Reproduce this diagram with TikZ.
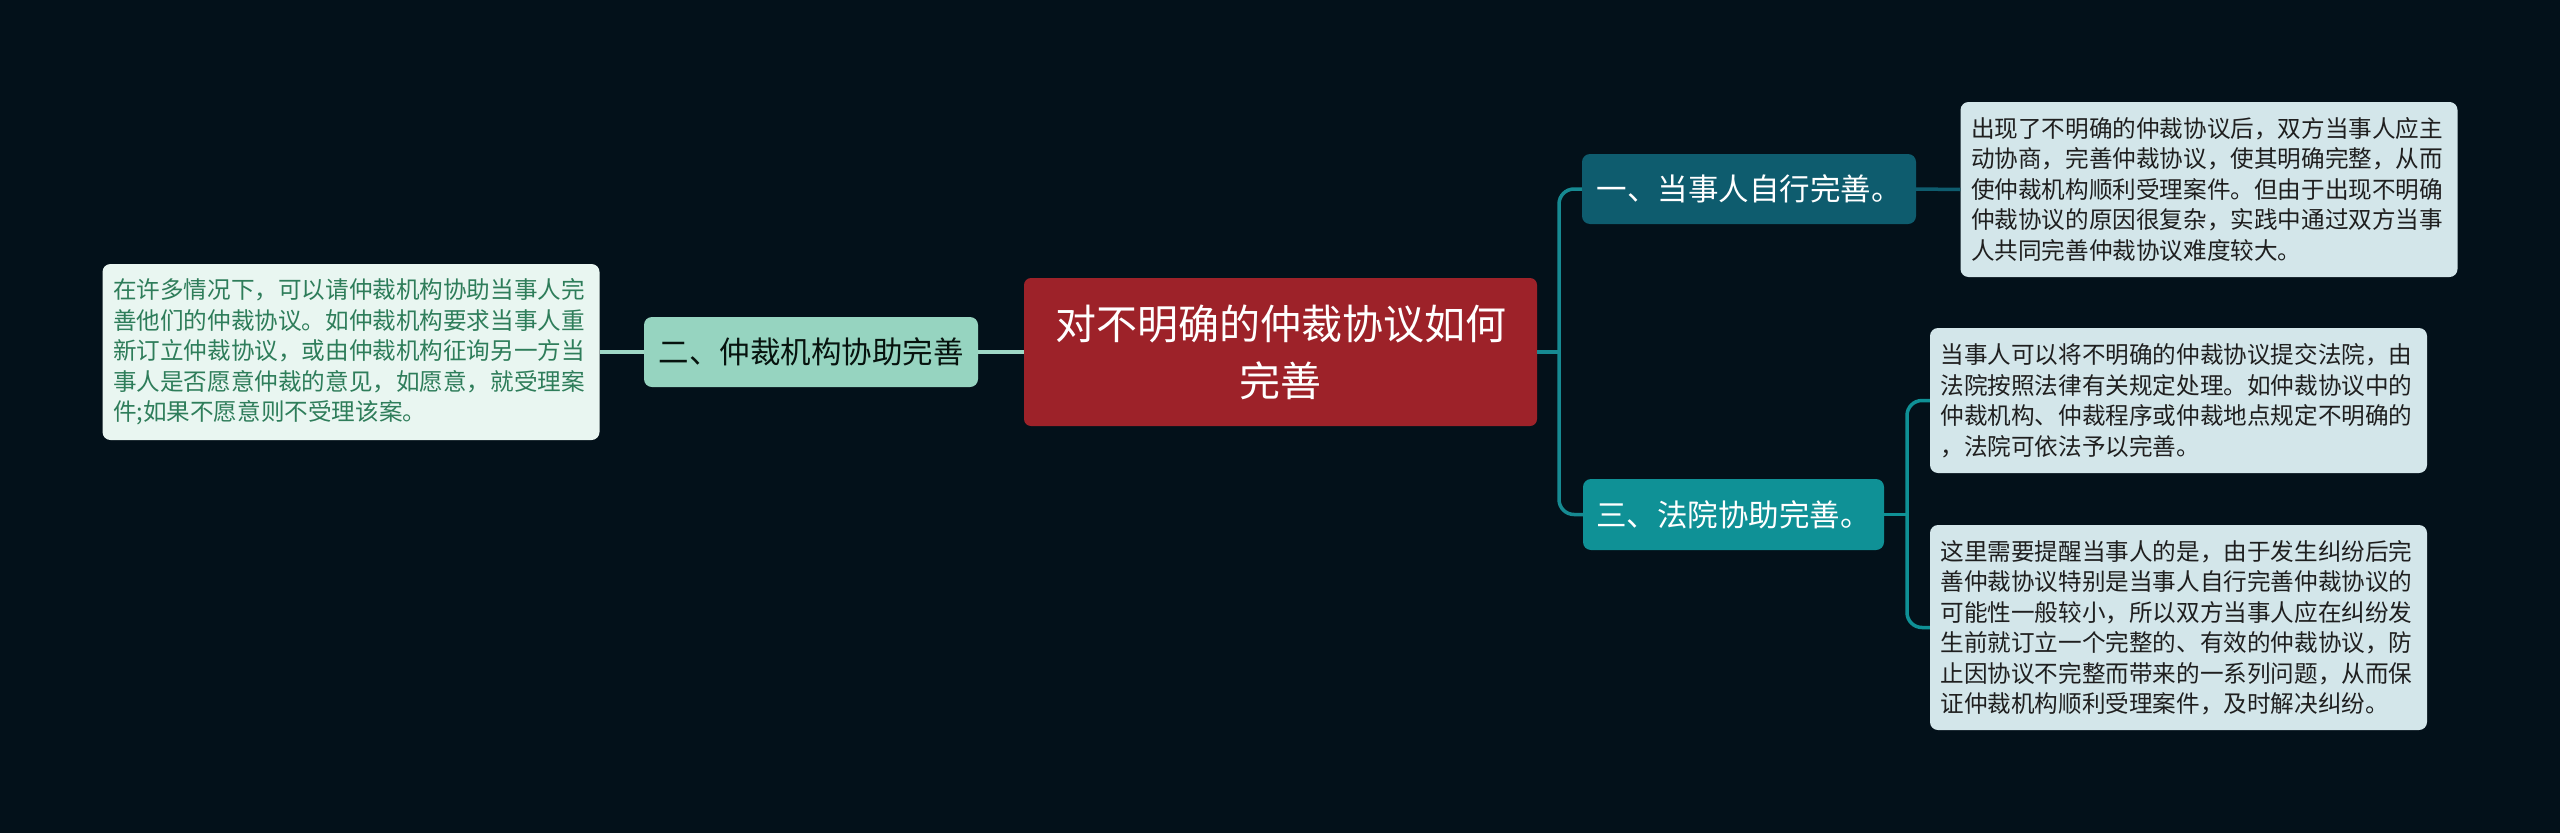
\documentclass[tikz,border=0pt]{standalone}
\usepackage{fontspec}
\setmainfont{Noto Sans CJK SC}
\definecolor{bg}{HTML}{03111A}
\definecolor{cred}{HTML}{9D2229}
\definecolor{mint}{HTML}{96D4C0}
\definecolor{mintline}{HTML}{9FD8C6}
\definecolor{mintbox}{HTML}{E9F6F1}
\definecolor{mintText}{HTML}{2E7D5A}
\definecolor{darkteal}{HTML}{0E5C6E}
\definecolor{teal}{HTML}{0F9196}
\definecolor{trunk}{HTML}{168A92}
\definecolor{bluebox}{HTML}{D3E6EA}
\begin{document}
\begin{tikzpicture}[x=1pt,y=-1pt,
  central/.style={fill=cred, text=white, rounded corners=7pt, font=\fontsize{41}{57}\selectfont, align=center, minimum width=513pt, minimum height=148pt, inner sep=0pt},
  topic/.style={rounded corners=8pt, font=\fontsize{30.5}{36}\selectfont, minimum height=70pt, inner sep=0pt},
  note/.style={rounded corners=8pt, font=\fontsize{23.6}{30.5}\selectfont, align=left, text width=476pt, inner xsep=10.5pt, inner ysep=0pt},
  conn/.style={line width=3.5pt, rounded corners=15pt}
]
\useasboundingbox[fill=bg] (0,0) rectangle (2560,833);

% nodes
\node[central] (c) at (1280.5,352) {对不明确的仲裁协议如何\\完善};
\node[topic, fill=mint, text=black!85!mintText, minimum width=334pt] (two) at (811,352) {二、仲裁机构协助完善};
\node[note, fill=mintbox, text=mintText, minimum height=176pt] (lnote) at (351,352) {在许多情况下，可以请仲裁机构协助当事人完\\善他们的仲裁协议。如仲裁机构要求当事人重\\新订立仲裁协议，或由仲裁机构征询另一方当\\事人是否愿意仲裁的意见，如愿意，就受理案\\件;如果不愿意则不受理该案。};

\node[topic, fill=darkteal, text=white, minimum width=334pt] (one) at (1749,189) {一、当事人自行完善。};
\node[topic, fill=teal, text=white, minimum width=301pt, minimum height=71pt] (three) at (1733.5,514.5) {三、法院协助完善。};

\node[note, fill=bluebox, text=black!88, minimum height=175pt] (n1) at (2209,189.5) {出现了不明确的仲裁协议后，双方当事人应主\\动协商，完善仲裁协议，使其明确完整，从而\\使仲裁机构顺利受理案件。但由于出现不明确\\仲裁协议的原因很复杂，实践中通过双方当事\\人共同完善仲裁协议难度较大。};
\node[note, fill=bluebox, text=black!88, minimum height=145pt] (n2) at (2178.5,400.5) {当事人可以将不明确的仲裁协议提交法院，由\\法院按照法律有关规定处理。如仲裁协议中的\\仲裁机构、仲裁程序或仲裁地点规定不明确的\\，法院可依法予以完善。};
\node[note, fill=bluebox, text=black!88, minimum height=205pt] (n3) at (2178.5,627.5) {这里需要提醒当事人的是，由于发生纠纷后完\\善仲裁协议特别是当事人自行完善仲裁协议的\\可能性一般较小，所以双方当事人应在纠纷发\\生前就订立一个完整的、有效的仲裁协议，防\\止因协议不完整而带来的一系列问题，从而保\\证仲裁机构顺利受理案件，及时解决纠纷。};

% connectors
\coordinate (tr) at (1559,352);
\coordinate (tb) at (1907,514.5);
\begin{scope}[on background layer/.try]
\end{scope}
\draw[conn, mintline] (lnote.east) -- (two.west);
\draw[conn, mintline] (two.east) -- (c.west);
\draw[conn, trunk] (c.east) -- (tr);
\draw[conn, trunk] (one.west) -| (tr) |- (three.west);
\draw[conn, darkteal] (one.east) -- (n1.west);
\draw[conn, teal] (three.east) -- (tb);
\draw[conn, teal] (n2.west) -| (tb) |- (n3.west);
\end{tikzpicture}
\end{document}
